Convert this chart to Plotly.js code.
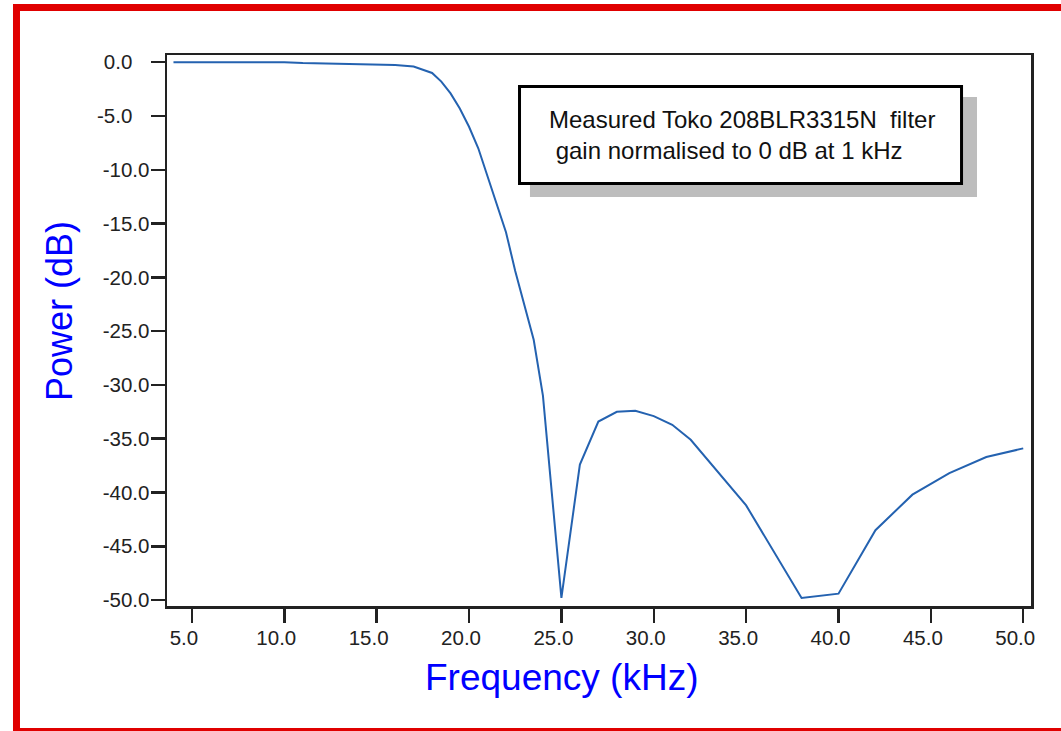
<!DOCTYPE html>
<html>
<head>
<meta charset="utf-8">
<script src="https://cdn.plot.ly/plotly-3.0.1.min.js"></script>
<style>
  html, body { margin: 0; padding: 0; background: #ffffff; }
  #chart { width: 1061px; height: 731px; }
</style>
</head>
<body>
<div id="chart"></div>
<script>
// ---- data ----
const frequencyKHz = [4, 5, 6, 7, 8, 9, 10, 11, 12, 13, 14, 15, 16, 17, 18, 18.5, 19, 19.5, 20, 20.5, 21, 21.5, 22, 22.5, 23, 23.5, 24, 25, 26, 27, 28, 29, 30, 31, 32, 35, 38, 40, 42, 44, 46, 48, 50];
const powerDB = [0.0, 0.0, 0.0, 0.0, 0.0, 0.0, 0.0, -0.08, -0.12, -0.15, -0.17, -0.2, -0.25, -0.4, -1.0, -1.8, -2.9, -4.3, -6.0, -8.0, -10.6, -13.1, -15.8, -19.4, -22.6, -25.8, -31.0, -49.8, -37.4, -33.4, -32.5, -32.4, -32.9, -33.7, -35.1, -41.2, -49.8, -49.4, -43.5, -40.2, -38.2, -36.7, -35.9];

const xTickVals = [5, 10, 15, 20, 25, 30, 35, 40, 45, 50];
const xTickText = ["5.0", "10.0", "15.0", "20.0", "25.0", "30.0", "35.0", "40.0", "45.0", "50.0"];
const yTickVals = [0, -5, -10, -15, -20, -25, -30, -35, -40, -45, -50];
const yTickText = ["0.0\u00a0\u00a0\u00a0", "-5.0\u00a0\u00a0\u00a0", "-10.0", "-15.0", "-20.0", "-25.0", "-30.0", "-35.0", "-40.0", "-45.0", "-50.0"];

const xTitle = "Frequency (kHz)";
const yTitle = "Power (dB)";
const noteLine1 = "Measured Toko 208BLR3315N\u00a0\u00a0filter";
const noteLine2 = "\u00a0gain normalised to 0 dB at 1 kHz";

// ---- figure ----
const FONT = "Liberation Sans, Arial, Helvetica, sans-serif";
const axisColor = "#222222";

const trace = {
  type: "scatter",
  mode: "lines",
  x: frequencyKHz,
  y: powerDB,
  line: { color: "#2462b0", width: 2 },
  hoverinfo: "x+y"
};

const layout = {
  width: 1061,
  height: 731,
  margin: { l: 167, r: 30, t: 55, b: 125 },
  paper_bgcolor: "#ffffff",
  plot_bgcolor: "#ffffff",
  showlegend: false,
  font: { family: FONT, color: axisColor },
  xaxis: {
    range: [3.65, 50.42],
    tickmode: "array",
    tickvals: xTickVals,
    ticktext: xTickText,
    ticks: "outside",
    ticklen: 14,
    tickwidth: 2.5,
    tickcolor: axisColor,
    ticklabelshift: -8,
    ticklabelstandoff: -2,
    tickfont: { family: FONT, size: 20.5, color: axisColor },
    showline: true,
    linewidth: 2.5,
    linecolor: axisColor,
    mirror: true,
    showgrid: false,
    zeroline: false
  },
  yaxis: {
    range: [-50.55, 0.67],
    tickmode: "array",
    tickvals: yTickVals,
    ticktext: yTickText,
    ticks: "outside",
    ticklen: 14,
    tickwidth: 2.5,
    tickcolor: axisColor,
    ticklabelstandoff: -3,
    tickfont: { family: FONT, size: 20.5, color: axisColor },
    showline: true,
    linewidth: 2.5,
    linecolor: axisColor,
    mirror: true,
    showgrid: false,
    zeroline: false
  },
  shapes: [
    // red frame around the whole figure
    { type: "rect", xref: "paper", yref: "paper",
      x0: -0.1742, x1: 1.045, y0: -0.2278, y1: 1.0862,
      line: { color: "#e00000", width: 7 }, fillcolor: "rgba(0,0,0,0)", layer: "above" },
    // note box shadow
    { type: "rect", xref: "paper", yref: "paper",
      x0: 0.4201, x1: 0.9375, y0: 0.7423, y1: 0.9238,
      line: { width: 0 }, fillcolor: "#bdbdbd", layer: "above" },
    // note box
    { type: "rect", xref: "paper", yref: "paper",
      x0: 0.4080, x1: 0.9196, y0: 0.7668, y1: 0.9429,
      line: { color: "#000000", width: 3 }, fillcolor: "#ffffff", layer: "above" }
  ],
  annotations: [
    { xref: "paper", yref: "paper", x: 0.440, y: 0.8548,
      xanchor: "left", yanchor: "middle", align: "left", showarrow: false,
      text: noteLine1 + "<br>" + noteLine2,
      font: { family: FONT, size: 24, color: "#111111" } },
    { xref: "paper", yref: "paper", x: 0.4566, y: -0.1289,
      xanchor: "center", yanchor: "middle", showarrow: false,
      text: xTitle, font: { family: FONT, size: 37, color: "#0000ff" } },
    { xref: "paper", yref: "paper", x: -0.1238, y: 0.5354,
      xanchor: "center", yanchor: "middle", showarrow: false, textangle: -90,
      text: yTitle, font: { family: FONT, size: 36, color: "#0000ff" } }
  ]
};

Plotly.newPlot("chart", [trace], layout, { staticPlot: true, displayModeBar: false });
</script>
</body>
</html>
